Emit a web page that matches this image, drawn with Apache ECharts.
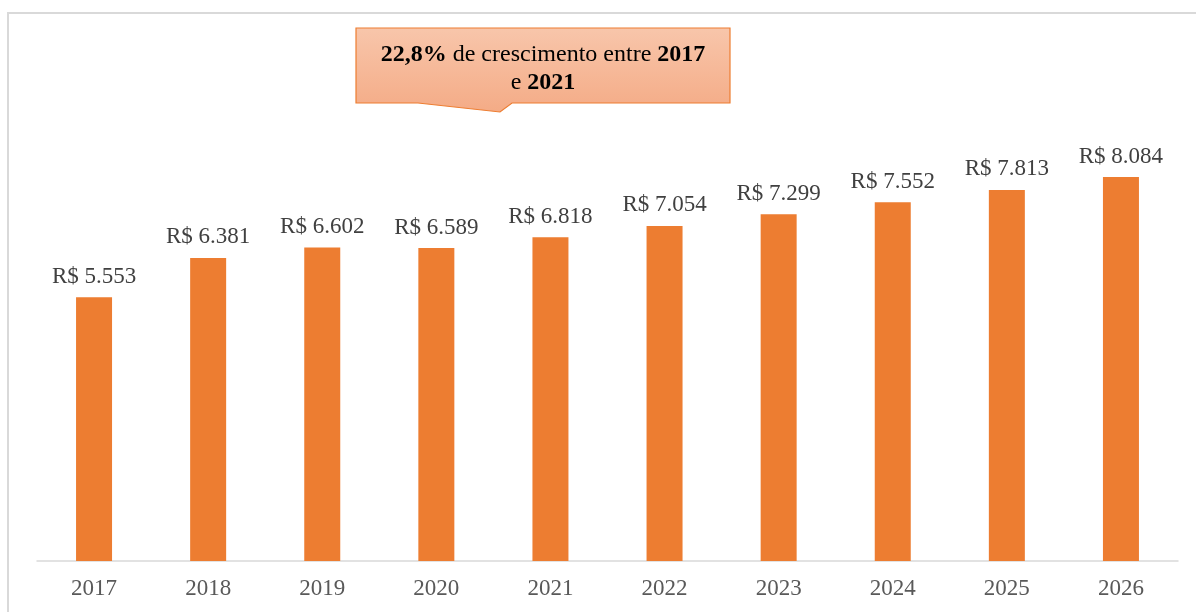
<!DOCTYPE html>
<html>
<head>
<meta charset="utf-8">
<script src="https://cdn.jsdelivr.net/npm/echarts@6/dist/echarts.min.js"></script>
<style>
  html, body { margin: 0; padding: 0; background: #fff; }
  #chart { width: 1196px; height: 612px; }
</style>
</head>
<body>
<div id="chart"></div>
<script>
// dados do gráfico
const anos = ['2017', '2018', '2019', '2020', '2021', '2022', '2023', '2024', '2025', '2026']
const valores = [5553, 6381, 6602, 6589, 6818, 7054, 7299, 7552, 7813, 8084]

// formata 5553 -> "R$ 5.553"
function formatReal(v) {
  return 'R$ ' + String(v).replace(/\B(?=(\d{3})+(?!\d))/g, '.')
}

const chart = echarts.init(document.getElementById('chart'))
const serif = '"Liberation Serif", "DejaVu Serif", serif'

const richCallout = {
  b: { fontFamily: serif, fontSize: 24, fontWeight: 'bold', color: '#000' },
  n: { fontFamily: serif, fontSize: 24, color: '#000' }
}

const option = {
  backgroundColor: '#fff',
  animation: false,
  grid: { left: 37, right: 18, top: 86, bottom: 51 },
  xAxis: {
    type: 'category',
    data: anos,
    axisLine: { lineStyle: { color: '#d9d9d9', width: 1.5 } },
    axisTick: { show: false },
    axisLabel: { color: '#595959', fontFamily: serif, fontSize: 23, margin: 16 }
  },
  yAxis: {
    type: 'value',
    min: 0,
    max: 10000,
    show: false,
    splitLine: { show: false }
  },
  series: [{
    type: 'bar',
    data: valores,
    barWidth: 36,
    itemStyle: { color: '#ed7d31' },
    label: {
      show: true,
      position: 'top',
      distance: 9,
      color: '#404040',
      fontFamily: serif,
      fontSize: 23,
      formatter: (p) => formatReal(p.value)
    }
  }],
  graphic: [
    // moldura do gráfico
    {
      type: 'rect',
      silent: true,
      shape: { x: 8, y: 13, width: 1400, height: 800 },
      style: { fill: 'none', stroke: '#d9d9d9', lineWidth: 2 }
    },
    // balão de destaque
    {
      type: 'polygon',
      silent: true,
      shape: {
        points: [[356, 28], [730, 28], [730, 103], [512, 103], [500, 112], [418, 103], [356, 103]]
      },
      style: {
        fill: new echarts.graphic.LinearGradient(0, 0, 0, 1, [
          { offset: 0, color: '#f8c6ab' },
          { offset: 1, color: '#f4ab86' }
        ]),
        stroke: '#ed7d31',
        lineWidth: 1.2
      }
    },
    {
      type: 'text',
      silent: true,
      style: {
        x: 543,
        y: 55,
        text: '{b|22,8%}{n| de crescimento entre }{b|2017}',
        align: 'center',
        verticalAlign: 'middle',
        rich: richCallout
      }
    },
    {
      type: 'text',
      silent: true,
      style: {
        x: 543,
        y: 83,
        text: '{n|e }{b|2021}',
        align: 'center',
        verticalAlign: 'middle',
        rich: richCallout
      }
    }
  ]
}

chart.setOption(option)
</script>
</body>
</html>
